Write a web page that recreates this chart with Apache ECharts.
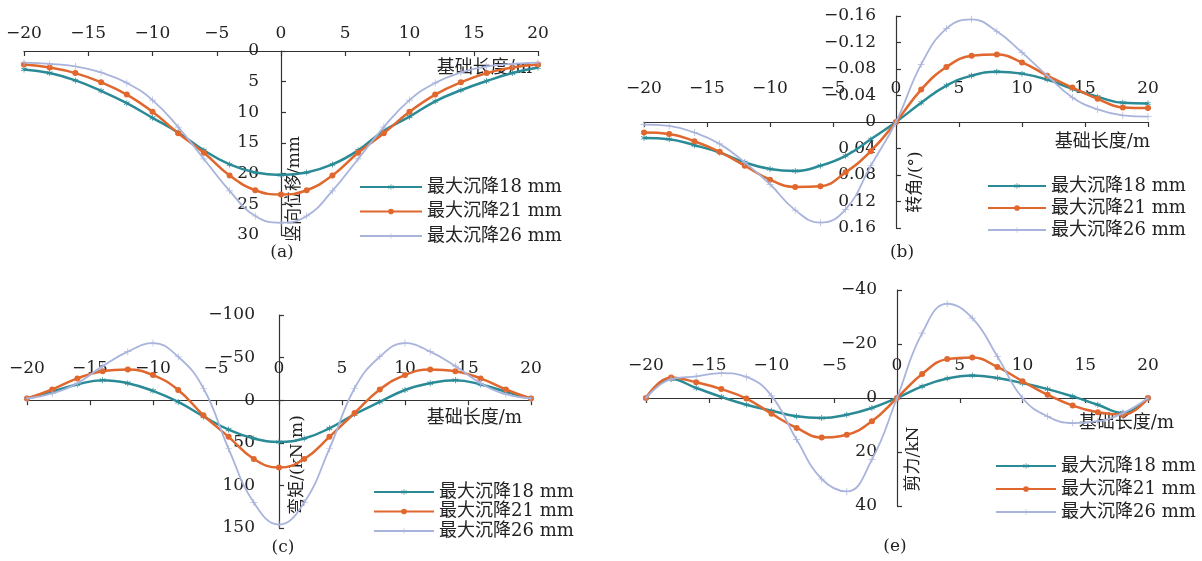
<!DOCTYPE html>
<html>
<head>
<meta charset="utf-8">
<script src="https://cdn.jsdelivr.net/npm/echarts@6/dist/echarts.min.js"></script>
<style>
html,body{margin:0;padding:0;background:#fff;}
#c{width:1202px;height:561px;}
</style>
</head>
<body>
<div id="c"></div>
<script>
// ---- data ----
const xs = [-20,-18,-16,-14,-12,-10,-8,-6,-4,-2,0,2,4,6,8,10,12,14,16,18,20];

const namesA = ['最大沉降18 mm','最大沉降21 mm','最太沉降26 mm'];
const names = ['最大沉降18 mm','最大沉降21 mm','最大沉降26 mm'];

// (a) vertical displacement / mm
const disp18 = [3.0,3.6,4.8,6.5,8.5,10.9,13.3,16.2,18.5,19.8,20.2,19.8,18.5,16.2,13.0,10.7,8.2,6.4,4.9,3.6,2.7];
const disp21 = [2.2,2.7,3.6,5.1,7.1,9.9,13.4,16.6,20.3,22.7,23.4,22.7,20.3,16.6,13.4,9.9,7.1,5.1,3.6,2.7,2.2];
const disp26 = [1.9,2.1,2.5,3.5,5.2,8.0,12.4,17.6,22.8,26.9,28.0,26.9,22.8,17.6,12.4,8.0,5.2,3.5,2.5,2.1,1.9];

// (b) rotation / deg
const rot18 = [0.024,0.026,0.035,0.046,0.061,0.071,0.074,0.066,0.051,0.026,0,-0.029,-0.055,-0.070,-0.076,-0.073,-0.064,-0.050,-0.038,-0.029,-0.028];
const rot21 = [0.016,0.018,0.029,0.045,0.066,0.087,0.098,0.097,0.076,0.044,0,-0.049,-0.083,-0.100,-0.102,-0.090,-0.070,-0.052,-0.035,-0.022,-0.021];
const rot26 = [0.004,0.006,0.016,0.033,0.061,0.094,0.133,0.152,0.132,0.066,0,-0.087,-0.141,-0.155,-0.137,-0.105,-0.070,-0.037,-0.019,-0.010,-0.008];

// (c) bending moment / kN·m
const mom18 = [-2,-10,-18.5,-23.5,-20,-11,2,19,34.5,45,49,45,33,16.5,2,-12,-20,-23.5,-18.5,-10,-2];
const mom21 = [-2,-12.6,-25.6,-34,-36,-29.5,-12,17.7,43,69,79,69,43,15,-12.6,-29.5,-36,-34,-25.6,-12.6,-2];
const mom26 = [-2,-8,-20,-40,-57,-67,-51,-14,57,120,146,120,57,-14,-51,-67,-57,-40,-20,-7,-2];

// (e) shear / kN
const shr18 = [0,-7,-3.7,-0.4,2.5,4.7,6.8,7.4,6.2,3.7,0,-4.3,-7.2,-8.3,-7.4,-5.5,-3.3,-0.6,2.5,5.5,0];
const shr21 = [0,-7.6,-5.8,-3.3,0.2,5.8,11.1,14.6,13.6,8.6,0,-8.9,-14.4,-15,-11.5,-6.2,-1.2,2.8,5.3,6.2,0];
const shr26 = [0,-7,-8,-9.2,-7.8,-0.8,15.4,30,34.6,22.8,0,-24,-34.9,-29.6,-15.4,0,6.8,9.3,8.6,5.6,0];

// ---- styles ----
const FONT = '"DejaVu Serif","Liberation Serif","Noto Sans CJK SC",serif';
const TEAL = '#2a8b97', ORANGE = '#e0672d', LIGHT = '#a9b4dc';
const STAR = 'path://M-0.12,-1H0.12V1H-0.12Z M-0.81,-0.604L0.93,0.396L0.81,0.604L-0.93,-0.396Z M-0.93,0.396L0.81,-0.604L0.93,-0.396L-0.81,0.604Z';
const PLUS = 'path://M-1,-0.1H1V0.1H-1Z M-0.1,-1H0.1V1H-0.1Z';
const styles = [
  {color: TEAL, width: 2.5, symbol: STAR, size: 6},
  {color: ORANGE, width: 2.5, symbol: 'circle', size: 6},
  {color: LIGHT, width: 1.8, symbol: PLUS, size: 7}
];
const fmt = v => String(+v.toFixed(2)).replace('-', '\u2212');

function mkSeries(gi, nm, vals, k) {
  const s = styles[k];
  return {
    type: 'line', name: nm, xAxisIndex: gi, yAxisIndex: gi,
    data: xs.map((x, i) => [x, vals[i]]),
    smooth: 0.45, symbol: s.symbol, symbolSize: s.size, showAllSymbol: true,
    lineStyle: {color: s.color, width: s.width},
    itemStyle: {color: s.color},
    emphasis: {disabled: true}, z: 2 + k
  };
}

const grids = [
  {left: 24, top: 51, width: 514, height: 184},
  {left: 644, top: 16, width: 504, height: 212},
  {left: 27, top: 315, width: 504, height: 213},
  {left: 646, top: 290, width: 502, height: 216}
];
grids.forEach(g => { g.outerBoundsMode = 'none'; g.containLabel = false; });
const xMargins = [9, 25, 23, 24];
const yMargins = [22, 20, 24, 20];
const yRanges = [[0, 30, 5], [-0.16, 0.16, 0.04], [-100, 150, 50], [-40, 40, 20]];
const xRange = [-20, 20, 5];

const axisLineStyle = {color: '#333', width: 1.2};
const xAxes = grids.map((g, i) => {
  const r = yRanges[i];
  const zeroOff = g.height * (0 - r[0]) / (r[1] - r[0]);   // axis crossing at y = 0
  return {
    type: 'value', gridIndex: i, min: xRange[0], max: xRange[1], interval: xRange[2],
    position: 'top', offset: -zeroOff,
    axisLine: {onZero: false, lineStyle: axisLineStyle},
    axisTick: {inside: true, length: 5, lineStyle: axisLineStyle},
    axisLabel: {margin: xMargins[i], fontSize: 17, fontFamily: FONT, color: '#222', formatter: fmt},
    splitLine: {show: false}
  };
});
const yAxes = grids.map((g, i) => {
  const r = yRanges[i];
  const zeroOff = g.width * (0 - xRange[0]) / (xRange[1] - xRange[0]);  // axis crossing at x = 0
  return {
    type: 'value', gridIndex: i, inverse: true,
    min: r[0], max: r[1], interval: r[2],
    position: 'left', offset: -zeroOff,
    axisLine: {show: true, onZero: false, lineStyle: axisLineStyle},
    axisTick: {show: true, inside: true, length: 5, lineStyle: axisLineStyle},
    axisLabel: {margin: yMargins[i], fontSize: 17, fontFamily: FONT, color: '#222', formatter: fmt},
    splitLine: {show: false}
  };
});

const series = [
  mkSeries(0, namesA[0], disp18, 0), mkSeries(0, namesA[1], disp21, 1), mkSeries(0, namesA[2], disp26, 2),
  mkSeries(1, names[0], rot18, 0), mkSeries(1, names[1], rot21, 1), mkSeries(1, names[2], rot26, 2),
  mkSeries(2, names[0], mom18, 0), mkSeries(2, names[1], mom21, 1), mkSeries(2, names[2], mom26, 2),
  mkSeries(3, names[0], shr18, 0), mkSeries(3, names[1], shr21, 1), mkSeries(3, names[2], shr26, 2)
];

function legend(data, left, top, gap, w) {
  return {
    data: data, orient: 'vertical', left: left, top: top, itemGap: gap,
    itemWidth: w, itemHeight: 7, selectedMode: false,
    textStyle: {fontSize: 18, fontFamily: FONT, color: '#222'}
  };
}

function txt(x, y, s, opts) {
  opts = opts || {};
  return {
    type: 'text', x: x, y: y, rotation: opts.rot || 0, z: 1,
    style: {
      text: s, font: (opts.size || 18) + 'px ' + FONT, fill: '#222',
      align: opts.align || 'center', verticalAlign: 'middle',
      textAlign: opts.align || 'center', textVerticalAlign: 'middle'
    }
  };
}
const R = Math.PI / 2;
const graphics = [
  txt(532, 68, '基础长度/m', {align: 'right'}),
  txt(1150, 142, '基础长度/m', {align: 'right'}),
  txt(522, 418, '基础长度/m', {align: 'right'}),
  txt(1174, 423, '基础长度/m', {align: 'right'}),
  txt(295, 189, '竖向位移/mm', {rot: R, size: 17}),
  txt(916, 182, '转角/(°)', {rot: R, size: 17}),
  txt(298, 465, '弯矩/(kN·m)', {rot: R, size: 17}),
  txt(914, 459, '剪力/kN', {rot: R, size: 17}),
  txt(282, 253, '(a)', {size: 17}),
  txt(902, 253, '(b)', {size: 17}),
  txt(283, 548, '(c)', {size: 17}),
  txt(895, 547, '(e)', {size: 17})
];

const chart = echarts.init(document.getElementById('c'), null, {renderer: 'canvas'});
chart.setOption({
  animation: false,
  backgroundColor: '#fff',
  grid: grids,
  xAxis: xAxes,
  yAxis: yAxes,
  legend: [
    legend(namesA, 354, 173, 6.5, 62),
    legend(names, 982, 172, 4, 58),
    legend(names, 368, 478, 1.5, 60),
    legend(names, 990, 452, 5, 60)
  ],
  graphic: graphics,
  series: series
});
</script>
</body>
</html>
